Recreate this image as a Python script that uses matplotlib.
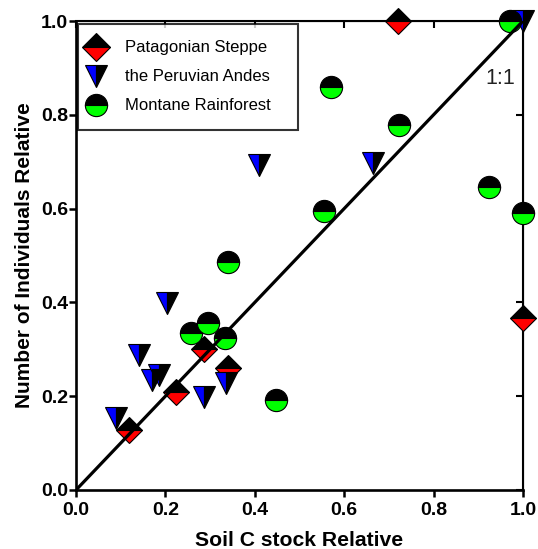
import matplotlib
matplotlib.use("Agg")
import matplotlib.pyplot as plt

plt.rcParams['font.family'] = ['Liberation Sans', 'DejaVu Sans']

# Patagonian Steppe
pat_x = [0.72, 1.0, 0.286, 0.34, 0.224, 0.119]
pat_y = [1.0, 0.367, 0.30, 0.26, 0.209, 0.128]

# the Peruvian Andes
per_x = [0.204, 0.41, 0.664, 1.0, 0.141, 0.170, 0.186, 0.286, 0.336, 0.089]
per_y = [0.399, 0.692, 0.697, 1.0, 0.288, 0.235, 0.245, 0.198, 0.228, 0.153]

# Montane Rainforest
mon_x = [0.971, 1.0, 0.924, 0.722, 0.570, 0.555, 0.34, 0.257, 0.295, 0.333, 0.447]
mon_y = [1.0, 0.59, 0.646, 0.778, 0.859, 0.595, 0.486, 0.335, 0.356, 0.325, 0.192]

ticks = [0.0, 0.2, 0.4, 0.6, 0.8, 1.0]

fig = plt.figure(figsize=(5.38, 5.49), dpi=100)
ax = fig.add_axes([0.1413, 0.1075, 0.8307, 0.8542])

ax.plot(pat_x, pat_y, linestyle='none', marker='D', markersize=13.5,
        fillstyle='top', markerfacecolor='black', markerfacecoloralt='red',
        markeredgecolor='black', markeredgewidth=0.8, clip_on=False,
        zorder=3, label='Patagonian Steppe')
ax.plot(per_x, per_y, linestyle='none', marker='v', markersize=16,
        fillstyle='left', markerfacecolor='#0000ff', markerfacecoloralt='black',
        markeredgecolor='black', markeredgewidth=0.8, clip_on=False,
        zorder=3, label='the Peruvian Andes')
ax.plot(mon_x, mon_y, linestyle='none', marker='o', markersize=16,
        fillstyle='top', markerfacecolor='black', markerfacecoloralt='#00ff00',
        markeredgecolor='black', markeredgewidth=0.8, clip_on=False,
        zorder=3, label='Montane Rainforest')

# 1:1 line
ax.plot([0, 1], [0, 1], color='black', linewidth=2.3, zorder=4)
ax.text(0.95, 0.877, '1:1', fontsize=15.5, color='#222222',
        ha='center', va='center')

ax.set_xlim(0, 1)
ax.set_ylim(0, 1)
ax.set_xticks(ticks)
ax.set_yticks(ticks)
ax.set_xticklabels([f'{t:.1f}' for t in ticks], fontweight='bold', fontsize=14)
ax.set_yticklabels([f'{t:.1f}' for t in ticks], fontweight='bold', fontsize=14)
ax.tick_params(direction='out', length=5, width=1.8)
ax.tick_params(axis='x', pad=3.6)
ax.tick_params(axis='y', pad=0.8)
ax.set_xlabel('Soil C stock Relative', fontweight='bold', fontsize=15.2, labelpad=9)
ax.set_ylabel('Number of Individuals Relative', fontweight='bold', fontsize=15, labelpad=5)

for side in ['left', 'bottom']:
    ax.spines[side].set_linewidth(1.9)
for side in ['top', 'right']:
    ax.spines[side].set_linewidth(1.5)

top = ax.secondary_xaxis('top')
top.set_xticks(ticks)
top.tick_params(direction='in', length=5, width=1.5, labeltop=False)
right = ax.secondary_yaxis('right')
right.set_yticks(ticks)
right.tick_params(direction='in', length=5, width=1.5, labelright=False)

leg = ax.legend(loc='upper left', bbox_to_anchor=(0.0045, 0.0, 0.492, 0.9936),
                mode='expand', borderaxespad=0, fontsize=12,
                frameon=True, fancybox=False, edgecolor='black',
                handletextpad=1.65, labelspacing=0.84, borderpad=0.98,
                handlelength=0.2)
leg.get_frame().set_linewidth(1.5)
leg.set_zorder(5)
leg.legend_handles[0].set_markersize(14.3)

fig.savefig('out.png', dpi=100)
